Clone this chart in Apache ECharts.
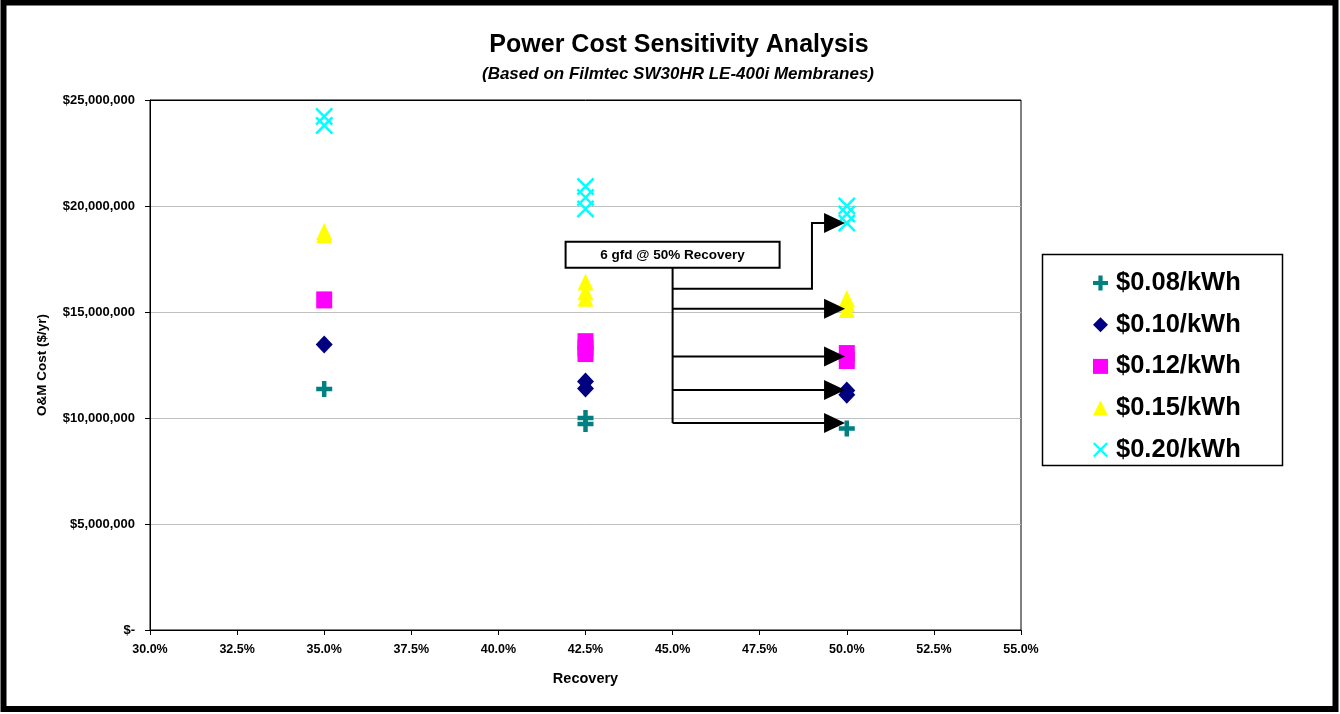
<!DOCTYPE html>
<html>
<head>
<meta charset="utf-8">
<title>Power Cost Sensitivity Analysis</title>
<script src="https://cdn.jsdelivr.net/npm/echarts@6/dist/echarts.min.js"></script>
<style>
  html, body { margin: 0; padding: 0; background: #fff; }
  #chart { width: 1340px; height: 714px; }
</style>
</head>
<body>
<div id="chart"></div>
<script>
// ---- data -------------------------------------------------------------
const titleText = 'Power Cost Sensitivity Analysis';
const subtitleText = '(Based on Filmtec SW30HR LE-400i Membranes)';
const seriesNames = ['$0.08/kWh', '$0.10/kWh', '$0.12/kWh', '$0.15/kWh', '$0.20/kWh'];

// recovery (%) and annual O&M cost ($/yr) for each power price
const rec08 = [35, 42.5, 42.5, 50];
const cost08 = [11370000, 10000000, 9720000, 9500000];

const rec10 = [35, 42.5, 42.5, 50, 50];
const cost10 = [13470000, 11720000, 11390000, 11300000, 11100000];

const rec12 = [35, 42.5, 42.5, 42.5, 50, 50];
const cost12 = [15570000, 13600000, 13300000, 13040000, 13040000, 12710000];

const rec15 = [35, 35, 42.5, 42.5, 42.5, 50, 50, 50];
const cost15 = [18800000, 18660000, 16420000, 15950000, 15650000, 15640000, 15400000, 15120000];

const rec20 = [35, 35, 42.5, 42.5, 42.5, 50, 50, 50];
const cost20 = [24220000, 23800000, 20920000, 20400000, 19860000, 20000000, 19620000, 19200000];

// axis ticks
const xTicks = [30, 32.5, 35, 37.5, 40, 42.5, 45, 47.5, 50, 52.5, 55];
const yTicks = [0, 5000000, 10000000, 15000000, 20000000, 25000000];

// callout: "6 gfd @ 50% Recovery"
const calloutText = '6 gfd @ 50% Recovery';
const calloutAnchor = [45, 17700000];
const calloutBranchCost = [16100000, 15150000, 12900000, 11320000, 9760000];
const calloutArrowCost = [19200000, 15150000, 12900000, 11320000, 9760000];
const calloutElbowRec = [49, null, null, null, null];
const calloutTipRec = 49.95;

// ---- styling ----------------------------------------------------------
const FONT = '"Liberation Sans", Arial, Helvetica, sans-serif';
const plusSymbol = 'path://M3.6,0H6.4V3.6H10V6.4H6.4V10H3.6V6.4H0V3.6H3.6Z';
const crossSymbol = 'path://M0,1L1,0L10,9L9,10Z M9,0L10,1L1,10L0,9Z';

function pairs(xs, ys) { return xs.map((x, i) => [x, ys[i]]); }

function moneyLabel(v) {
  if (v === 0) return '$-';
  return '$' + v.toLocaleString('en-US');
}

const chart = echarts.init(document.getElementById('chart'), null, { renderer: 'canvas' });

const option = {
  backgroundColor: '#fff',
  animation: false,
  textStyle: { fontFamily: FONT },
  grid: {
    left: 150, right: 319, top: 100, bottom: 84,
    show: true, borderColor: '#000', borderWidth: 1, backgroundColor: 'transparent'
  },
  legend: {
    orient: 'vertical',
    left: 1088, top: 263,
    itemWidth: 15, itemHeight: 15, itemGap: 11.7,
    selectedMode: false,
    data: seriesNames,
    textStyle: { fontFamily: FONT, fontSize: 25.5, fontWeight: 'bold', color: '#000', lineHeight: 30, padding: [0, 0, 0, 3] }
  },
  xAxis: {
    type: 'value',
    min: 30, max: 55, interval: 2.5,
    name: 'Recovery', nameLocation: 'middle', nameGap: 41,
    nameTextStyle: { fontFamily: FONT, fontSize: 14.5, fontWeight: 'bold', color: '#000' },
    axisLine: { lineStyle: { color: '#000', width: 1 } },
    axisTick: { show: true, inside: false, length: 5, lineStyle: { color: '#000' } },
    splitLine: { show: false },
    axisLabel: {
      margin: 13, fontFamily: FONT, fontSize: 12.5, fontWeight: 'bold', color: '#000',
      formatter: v => v.toFixed(1) + '%'
    }
  },
  yAxis: {
    type: 'value',
    min: 0, max: 25000000, interval: 5000000,
    name: 'O&M Cost ($/yr)', nameLocation: 'middle', nameGap: 101, nameRotate: 90,
    nameTextStyle: { fontFamily: FONT, fontSize: 13.5, fontWeight: 'bold', color: '#000' },
    axisLine: { show: true, lineStyle: { color: '#000', width: 1 } },
    axisTick: { show: true, inside: false, length: 5, lineStyle: { color: '#000' } },
    splitLine: { show: true, lineStyle: { color: ['#c0c0c0', '#c0c0c0', '#c0c0c0', '#c0c0c0', '#c0c0c0', '#000'], width: 1 } },
    axisLabel: {
      margin: 15, fontFamily: FONT, fontSize: 13, fontWeight: 'bold', color: '#000',
      formatter: moneyLabel
    }
  },
  series: [
    { name: seriesNames[0], type: 'scatter', symbol: plusSymbol, symbolSize: 16,
      itemStyle: { color: '#008080', opacity: 1 }, data: pairs(rec08, cost08) },
    { name: seriesNames[1], type: 'scatter', symbol: 'diamond', symbolSize: [17, 18],
      itemStyle: { color: '#000080', opacity: 1 }, data: pairs(rec10, cost10) },
    { name: seriesNames[2], type: 'scatter', symbol: 'rect', symbolSize: [16, 17],
      itemStyle: { color: '#ff00ff', opacity: 1 }, data: pairs(rec12, cost12) },
    { name: seriesNames[3], type: 'scatter', symbol: 'triangle', symbolSize: [16, 17],
      itemStyle: { color: '#ffff00', opacity: 1 }, data: pairs(rec15, cost15) },
    { name: seriesNames[4], type: 'scatter', symbol: crossSymbol, symbolSize: 18,
      itemStyle: { color: '#00ffff', opacity: 1 }, data: pairs(rec20, cost20) }
  ]
};

chart.setOption(option);

// ---- frame, titles, legend box and callout ------------------------------
function toPx(x, y) { return chart.convertToPixel({ gridIndex: 0 }, [x, y]); }

const g = [];
// outer chart frame
g.push({ type: 'rect', shape: { x: 3.5, y: 2.5, width: 1332, height: 706.5 },
  style: { fill: null, stroke: '#000', lineWidth: 6 }, z: 200 });
// titles
g.push({ type: 'text', x: 679, y: 45, z: 200,
  style: { text: titleText, font: 'bold 25px ' + FONT, fill: '#000', align: 'center', verticalAlign: 'middle' } });
g.push({ type: 'text', x: 678, y: 74, z: 200,
  style: { text: subtitleText, font: 'italic bold 17px ' + FONT, fill: '#000', align: 'center', verticalAlign: 'middle' } });
// legend box
g.push({ type: 'rect', shape: { x: 1042.5, y: 254.5, width: 240, height: 211 },
  style: { fill: null, stroke: '#000', lineWidth: 1.5 }, z: 200 });

// callout connectors
const anchor = toPx(calloutAnchor[0], calloutAnchor[1]);
const boxW = 214, boxH = 26;
const trunkX = anchor[0];
const branchPx = calloutBranchCost.map(c => toPx(calloutAnchor[0], c)[1]);
const lineStyle = { stroke: '#000', lineWidth: 2, fill: null };
g.push({ type: 'polyline', z: 150,
  shape: { points: [[trunkX, anchor[1] + boxH / 2], [trunkX, Math.max(...branchPx)]] }, style: lineStyle });
const tipX = toPx(calloutTipRec, 0)[0];
const headLen = 21, headHalf = 10;
calloutArrowCost.forEach((c, i) => {
  const yb = branchPx[i];
  const yt = toPx(calloutTipRec, c)[1];
  const pts = [[trunkX, yb]];
  if (calloutElbowRec[i] !== null) {
    const xe = toPx(calloutElbowRec[i], c)[0];
    pts.push([xe, yb], [xe, yt]);
  }
  pts.push([tipX - headLen + 1, yt]);
  g.push({ type: 'polyline', z: 150, shape: { points: pts }, style: lineStyle });
  g.push({ type: 'polygon', z: 150,
    shape: { points: [[tipX - headLen, yt - headHalf], [tipX, yt], [tipX - headLen, yt + headHalf]] },
    style: { fill: '#000', stroke: null } });
});
// callout box
g.push({ type: 'rect', z: 160,
  shape: { x: anchor[0] - boxW / 2, y: anchor[1] - boxH / 2, width: boxW, height: boxH },
  style: { fill: '#fff', stroke: '#000', lineWidth: 2 } });
g.push({ type: 'text', z: 161, x: anchor[0], y: anchor[1] + 0.5,
  style: { text: calloutText, font: 'bold 13.5px ' + FONT, fill: '#000', align: 'center', verticalAlign: 'middle' } });

chart.setOption({ graphic: { elements: g } });
</script>
</body>
</html>
